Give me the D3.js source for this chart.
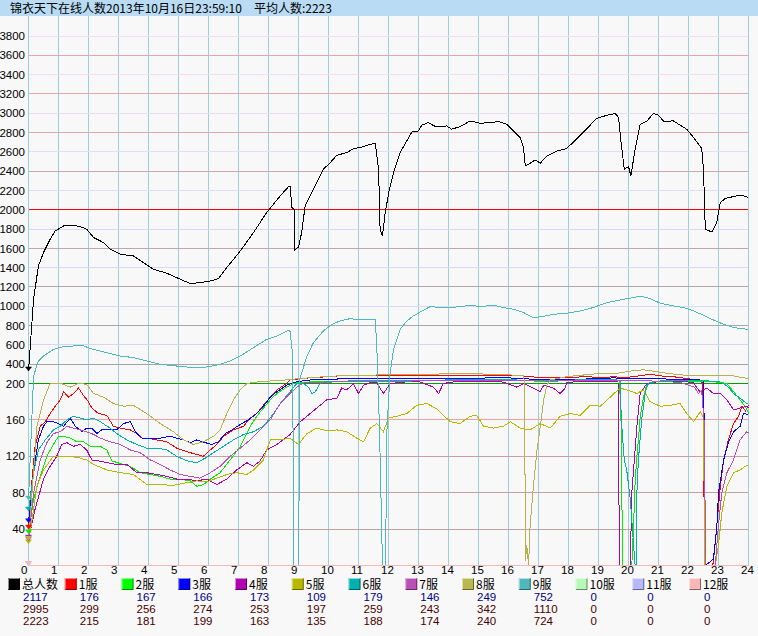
<!DOCTYPE html>
<html><head><meta charset="utf-8">
<script src="https://cdn.jsdelivr.net/npm/d3@7"></script>
<style>
html,body{margin:0;padding:0;background:#f8f8f8;}
svg{display:block;}
</style></head><body>
<svg id="c" width="758" height="636"></svg>
<script>
// ---------- data ----------
const titleText = "锦衣天下在线人数2013年10月16日23:59:10\u3000平均人数:2223";
const hourTicks = d3.range(0, 25);
const yTicksTop = d3.range(3800, 199, -200);
const yTicksBottom = [160, 120, 80, 40];
const seriesNames = ["总人数","1服","2服","3服","4服","5服","6服","7服","8服","9服","10服","11服","12服"];
const currentValues = [2117,176,167,166,173,109,179,146,249,752,0,0,0];
const maxValues = [2995,299,256,274,253,197,259,243,342,1110,0,0,0];
const avgValues = [2223,215,181,199,163,135,188,174,240,724,0,0,0];

// [hour, value]
const totalSeries = [[0,330],[0.17,1073],[0.33,1418],[0.5,1556],[0.72,1694],[0.89,1780],[1.17,1832],[1.39,1842],[1.72,1826],[1.94,1798],[2.17,1712],[2.5,1660],[2.72,1591],[3.06,1539],[3.5,1521],[3.83,1453],[4.17,1383],[4.61,1342],[4.94,1297],[5.39,1235],[5.72,1246],[6.06,1262],[6.33,1287],[6.61,1401],[7.06,1573],[7.5,1764],[7.94,1971],[8.39,2143],[8.67,2240],[8.72,2240],[8.78,2023],[8.86,2000],[8.87,1583],[9,1613],[9.11,1770],[9.22,2040],[9.5,2212],[9.83,2420],[10.06,2489],[10.28,2565],[10.61,2592],[10.83,2634],[11.06,2644],[11.28,2668],[11.53,2686],[11.56,2690],[11.67,2420],[11.72,1798],[11.8,1729],[11.89,1971],[12.03,2212],[12.17,2385],[12.39,2593],[12.61,2713],[12.78,2806],[13,2817],[13.11,2876],[13.33,2903],[13.56,2862],[13.94,2868],[14.1,2834],[14.39,2862],[14.72,2920],[15.06,2896],[15.39,2903],[15.67,2913],[15.94,2886],[16.17,2817],[16.39,2748],[16.5,2644],[16.56,2454],[16.67,2470],[16.89,2516],[17.06,2482],[17.28,2558],[17.61,2609],[17.94,2634],[18.28,2738],[18.61,2841],[18.94,2945],[19.28,2979],[19.56,2997],[19.67,2955],[19.74,2731],[19.86,2420],[20,2448],[20.08,2350],[20.22,2627],[20.39,2886],[20.61,2917],[20.83,2997],[21,2979],[21.17,2917],[21.5,2920],[21.72,2876],[21.94,2834],[22.17,2748],[22.44,2634],[22.5,2420],[22.56,1798],[22.78,1770],[22.94,1867],[23.06,2075],[23.22,2116],[23.5,2137],[23.72,2150],[23.94,2137],[24,2117]];

const server1 = [[0,40],[0.06,73],[0.22,131],[0.39,153],[0.56,158],[0.72,167],[0.89,175],[1.06,182],[1.17,191],[1.33,185],[1.5,189],[1.67,195],[1.83,187],[2,180],[2.11,173],[2.33,167],[2.61,165],[2.83,153],[3.06,151],[3.39,149],[3.61,145],[3.78,140],[3.94,140],[4.28,138],[4.61,136],[4.94,129],[5.28,125],[5.61,122],[5.83,120],[6.06,127],[6.28,133],[6.5,142],[6.83,149],[7.17,153],[7.39,162],[7.61,167],[7.83,176],[8.06,185],[8.28,193],[8.6,200],[8.72,236],[9.17,254],[9.72,265],[10.28,278],[10.8,282],[11.39,288],[12,283],[12.5,282],[13,286],[13.61,288],[14.2,282],[14.72,278],[15.3,283],[15.83,278],[16.3,284],[16.8,268],[17.4,258],[17.9,258],[18.5,270],[19,265],[19.5,268],[20,265],[20.5,285],[20.72,299],[21,280],[21.5,270],[21.9,254],[22.39,229],[22.48,200],[22.5,87],[22.54,60],[22.56,0],[22.8,0],[22.83,4],[22.94,43],[23.06,87],[23.17,116],[23.33,138],[23.5,156],[23.67,164],[23.78,175],[23.9,170],[24,176]];
const server2 = [[0,35],[0.17,73],[0.39,98],[0.61,120],[0.83,133],[1,142],[1.17,142],[1.39,140],[1.61,136],[1.83,136],[2.06,131],[2.39,131],[2.61,127],[2.78,115],[3.06,112],[3.39,109],[3.72,102],[4.06,100],[4.39,98],[4.72,95],[5.06,95],[5.39,93],[5.61,87],[5.83,89],[6.11,96],[6.39,102],[6.72,116],[7.06,131],[7.39,153],[7.61,164],[7.83,173],[8.06,182],[8.28,189],[8.6,196],[8.9,205],[9.3,215],[10,222],[11,228],[12,225],[13,230],[14,232],[15,235],[16,230],[17,225],[18,228],[19,232],[19.7,230],[19.76,150],[19.8,0],[20.11,0],[20.17,44],[20.22,91],[20.28,120],[20.33,138],[20.39,164],[20.5,185],[20.61,200],[20.8,215],[21.5,222],[22,220],[22.5,218],[23,215],[23.28,200],[23.5,191],[23.72,182],[23.94,172],[24,167]];
const server3 = [[0,47],[0.17,105],[0.33,138],[0.5,153],[0.61,158],[0.83,158],[1,156],[1.17,153],[1.39,162],[1.56,153],[1.78,147],[1.94,151],[2.11,151],[2.28,145],[2.44,149],[2.72,149],[2.94,149],[3.17,156],[3.39,158],[3.56,147],[3.78,140],[4.06,140],[4.39,140],[4.72,142],[4.94,140],[5.17,138],[5.39,135],[5.61,138],[5.89,135],[6.11,133],[6.33,136],[6.56,145],[6.78,149],[7.06,155],[7.33,160],[7.61,167],[7.83,175],[8.06,185],[8.28,191],[8.6,198],[8.9,215],[9.3,235],[10,245],[11,250],[12,248],[13,252],[14,250],[15,255],[15.8,262],[16.5,250],[17,240],[18,242],[19,250],[19.5,258],[20,252],[21,248],[21.5,245],[22,240],[22.5,235],[22.54,120],[22.56,0],[22.83,7],[22.94,40],[23,80],[23.17,116],[23.33,135],[23.5,147],[23.72,153],[23.83,167],[24,166]];
const server4 = [[0,29],[0.22,62],[0.5,95],[0.72,109],[0.94,120],[1.11,133],[1.28,135],[1.5,131],[1.72,133],[1.94,127],[2.11,116],[2.33,115],[2.61,113],[2.94,111],[3.28,111],[3.61,102],[3.94,102],[4.28,100],[4.61,98],[4.94,95],[5.28,95],[5.61,93],[5.94,95],[6.28,89],[6.61,95],[6.94,105],[7.28,113],[7.5,109],[7.72,115],[7.94,127],[8.28,133],[8.72,144],[9.06,158],[9.39,167],[9.72,176],[9.94,182],[10.28,184],[10.44,195],[10.61,193],[10.83,200],[11,189],[11.17,198],[11.39,212],[11.61,205],[11.83,189],[12.06,200],[12.5,215],[13,222],[13.5,196],[13.67,189],[13.83,200],[14.2,218],[14.72,225],[15.3,220],[15.83,215],[16.28,196],[16.5,200],[16.83,195],[17.06,191],[17.17,198],[17.5,195],[17.72,189],[17.89,195],[17.94,212],[18.5,222],[19,225],[19.65,220],[19.7,0],[20.06,0],[20.11,80],[20.28,153],[20.39,189],[20.61,200],[21,220],[21.5,225],[22.17,212],[22.28,195],[22.39,191],[22.61,195],[22.83,189],[23.06,189],[23.28,182],[23.5,171],[23.72,173],[23.94,175],[24,173]];
const server5 = [[0,24],[0.28,87],[0.5,105],[0.83,120],[1.17,120],[1.61,119],[1.94,116],[2.17,111],[2.61,105],[3.06,102],[3.5,100],[3.94,89],[4.39,89],[4.83,88],[5.28,91],[5.61,93],[5.94,92],[6.28,96],[6.61,100],[6.94,102],[7.28,100],[7.5,105],[7.83,116],[8.06,138],[8.39,138],[8.72,140],[9,133],[9.28,145],[9.61,151],[9.94,148],[10.28,149],[10.61,147],[10.94,140],[11.17,136],[11.39,151],[11.61,156],[11.83,147],[12,162],[12.28,164],[12.61,167],[12.94,176],[13.28,178],[13.61,172],[13.83,165],[14.06,158],[14.39,156],[14.72,164],[14.94,165],[15.17,153],[15.5,151],[15.83,153],[16.06,158],[16.39,151],[16.72,149],[17.06,156],[17.39,151],[17.72,164],[18.06,167],[18.39,165],[18.72,176],[19.06,175],[19.39,185],[19.72,195],[19.94,193],[20.28,189],[20.5,193],[20.72,180],[21.06,175],[21.39,176],[21.72,178],[21.94,167],[22.17,158],[22.39,169],[22.5,162],[22.54,0],[22.89,0],[23,22],[23.11,58],[23.28,87],[23.5,102],[23.72,105],[23.94,110],[24,109]];
const server6 = [[0,60],[0.17,102],[0.33,127],[0.56,138],[0.83,149],[1.06,153],[1.28,160],[1.5,164],[1.72,162],[1.94,160],[2.17,162],[2.39,158],[2.72,151],[2.94,145],[3.28,138],[3.61,133],[3.94,129],[4.28,129],[4.61,127],[4.94,120],[5.28,115],[5.61,113],[5.89,118],[6.17,124],[6.5,131],[6.83,138],[7.17,144],[7.5,147],[7.83,153],[8.17,167],[8.39,178],[8.72,191],[8.94,200],[9.17,200],[9.33,196],[9.44,189],[9.56,191],[9.72,200],[9.83,215],[10.5,225],[11.5,230],[12.5,232],[13.5,235],[14.5,238],[15.5,240],[16.5,235],[17.5,232],[18.5,238],[19.3,240],[19.72,235],[19.76,160],[19.86,116],[19.94,105],[20.06,73],[20.14,36],[20.22,0],[20.26,0],[20.28,80],[20.33,116],[20.44,160],[20.56,191],[20.67,205],[21,225],[21.5,232],[22,230],[22.5,228],[23,222],[23.17,200],[23.33,196],[23.5,189],[23.72,184],[23.94,178],[24,179]];
const server7 = [[0,27],[0.17,80],[0.39,116],[0.61,135],[0.83,145],[1.06,147],[1.28,153],[1.5,151],[1.72,149],[1.94,147],[2.17,144],[2.39,140],[2.72,136],[3.06,133],[3.39,127],[3.72,124],[4.06,116],[4.39,111],[4.72,105],[5.06,100],[5.39,98],[5.72,96],[6.06,102],[6.39,109],[6.72,120],[7.06,129],[7.39,138],[7.72,149],[8.06,160],[8.33,175],[8.5,182],[8.94,196],[9.17,205],[9.6,212],[10.5,218],[11.5,222],[12.5,225],[13.5,228],[14.5,226],[15.5,230],[16.5,228],[17.5,225],[18.5,230],[19.5,232],[20.5,228],[21.3,222],[21.8,205],[22.2,196],[22.33,189],[22.44,192],[22.54,150],[22.56,0],[22.89,0],[23,44],[23.11,80],[23.28,102],[23.5,116],[23.72,138],[23.94,147],[24,146]];
const server8 = [[0,28],[0.28,153],[0.5,182],[0.72,200],[1.06,204],[1.39,196],[1.67,202],[1.94,199],[2.17,189],[2.5,185],[2.83,178],[3.17,175],[3.5,176],[3.94,167],[4.39,156],[4.83,147],[5.17,138],[5.5,133],[5.83,136],[6.17,142],[6.39,149],[6.61,167],[6.83,182],[7.06,193],[7.28,200],[7.6,215],[8,225],[8.5,235],[9,250],[9.5,262],[10,275],[11,285],[12,290],[13,295],[14,300],[15,300],[16,290],[16.5,280],[16.54,200],[16.56,5],[16.61,22],[16.67,0],[16.72,44],[16.83,87],[16.94,124],[17.06,153],[17.17,182],[17.28,198],[17.39,236],[17.94,271],[18.5,288],[19.06,305],[19.6,305],[20.17,333],[20.5,342],[20.94,322],[21.28,305],[21.83,288],[22.39,288],[22.94,288],[23.5,278],[23.94,254],[24,249]];
const server9 = [[0,72],[0.17,278],[0.33,433],[0.5,485],[0.83,554],[1.17,582],[1.5,589],[1.83,592],[2.06,562],[2.5,527],[3.06,485],[3.5,468],[3.94,433],[4.39,399],[4.94,381],[5.5,365],[5.94,371],[6.39,399],[6.72,433],[7.06,485],[7.5,572],[7.94,658],[8.28,692],[8.67,751],[8.72,740],[8.81,485],[8.83,0],[9,0],[9.05,250],[9.28,485],[9.5,624],[9.83,744],[10.11,813],[10.39,848],[10.72,872],[11.06,858],[11.28,865],[11.53,865],[11.56,860],[11.62,500],[11.7,150],[11.8,0],[11.9,0],[11.95,150],[12.05,300],[12.17,554],[12.39,762],[12.61,848],[12.83,900],[13.06,941],[13.39,997],[13.72,987],[14.06,987],[14.39,997],[14.72,1010],[15.06,997],[15.5,1010],[15.83,987],[16.17,969],[16.5,935],[16.83,883],[17.06,890],[17.5,917],[17.94,928],[18.39,952],[18.83,987],[19.28,1038],[19.72,1066],[20.17,1090],[20.39,1107],[20.72,1080],[21.06,1031],[21.39,1010],[21.83,987],[22.17,952],[22.5,907],[22.83,858],[23.17,813],[23.5,779],[23.94,762],[24,752]];
const server10 = [[0,0],[24,0]];
const server11 = [[0,0],[24,0]];
const server12 = [[0,0],[24,0]];

// ---------- styles ----------
const lineColors = ["#000000","#ff0000","#00ee00","#0000ff","#b000b0","#b8b800","#00b0b0","#b850b8","#b8b050","#50b8b8","#b8f8b8","#b8b8f8","#f8b8b8"];
const swatchColors = ["#000000","#ff0000","#00ff00","#0000ff","#b000b0","#b8b800","#00b0b0","#b850b8","#b8b850","#50b8b8","#b8f8b8","#b8b8f8","#f8b8b8"];
const gridColor = new Map([[3800,"#f0dcf8"],[3600,"#e2a8b2"],[3400,"#f0dcf8"],[3200,"#e0a8b0"],[3000,"#e8dcf4"],[2800,"#dca8b0"],[2600,"#e4dcf8"],[2400,"#c8a8b0"],[2200,"#dcdcf8"],[2000,"#ff0000"],[1800,"#d8d8f8"],[1600,"#c4a4a8"],[1400,"#d8d8f8"],[1200,"#b0a8a8"],[1000,"#d8d8f8"],[800,"#a8a8a8"],[600,"#d4d4f4"],[400,"#a4a4a4"],[200,"#00a000"],[160,"#f0a0a0"],[120,"#c8a0a0"],[80,"#c0a0a0"],[40,"#c0a0a0"]]);

const allSeries = [totalSeries,server1,server2,server3,server4,server5,server6,server7,server8,server9,server10,server11,server12];

// ---------- layout ----------
const svg = d3.select("#c");
const W = 758, H = 636;
const x = d3.scaleLinear().domain([0,24]).range([28.5,748.5]);
const y = d3.scaleLinear().domain([0,200,3800]).range([565.5,383.5,36]);
const pix = v => Math.round(v - 0.5);

svg.append("rect").attr("width",W).attr("height",H).attr("fill","#f8f8f8");
svg.append("rect").attr("width",W).attr("height",16).attr("fill","#b9dcf4");
svg.append("text").attr("x",10).attr("y",12.5)
  .attr("font-family","'Noto Sans CJK SC', sans-serif").attr("font-size",12)
  .attr("fill","#000").text(titleText);

// vertical grid (1px rects)
svg.append("g").selectAll("rect").data(hourTicks).join("rect")
  .attr("x",d=>pix(x(d))).attr("width",1)
  .attr("y",16).attr("height",550)
  .attr("fill","#9ccfd9").attr("shape-rendering","crispEdges");

// horizontal grid (1px rects)
const yTicks = yTicksTop.concat(yTicksBottom);
svg.append("g").selectAll("rect").data(yTicks).join("rect")
  .attr("x",29).attr("width",719)
  .attr("y",d=>pix(y(d))).attr("height",1)
  .attr("fill",d=>gridColor.get(d)).attr("shape-rendering","crispEdges");

// y axis labels
const yAxis = d3.axisLeft(y).tickValues(yTicks).tickSize(0).tickPadding(3).tickFormat(d3.format("d"));
const gy = svg.append("g").attr("transform","translate(28,0)").call(yAxis);
gy.select(".domain").remove();
gy.selectAll(".tick line").remove();
gy.selectAll("text").attr("font-family","'Liberation Sans', Arial, sans-serif").attr("font-size",11.5).attr("fill","#000");

// x axis labels
const xAxis = d3.axisBottom(x).tickValues(hourTicks).tickSize(0).tickPadding(0).tickFormat(d3.format("d"));
const gx = svg.append("g").attr("transform","translate(0,567.2)").call(xAxis);
gx.select(".domain").remove();
gx.selectAll(".tick line").remove();
gx.selectAll("text").attr("font-family","'Liberation Sans', Arial, sans-serif").attr("font-size",11.5).attr("fill","#000")
  .attr("text-anchor","start").attr("dx",-8).attr("dy","0.55em");

// series lines
const line = d3.line().x(d=>x(d[0])).y(d=>y(d[1]));
const gl = svg.append("g");
allSeries.forEach((s,i)=>{
  gl.append("path").attr("d",line(s)).attr("fill","none")
    .attr("stroke",lineColors[i]).attr("stroke-width",1)
    .attr("shape-rendering","crispEdges");
});
// start markers
allSeries.forEach((s,i)=>{
  const px = x(s[0][0]), py = y(s[0][1]);
  gl.append("path").attr("d",`M${px-3},${py-4}L${px+3},${py-4}L${px},${py}Z`)
    .attr("fill",lineColors[i]).attr("stroke",lineColors[i]).attr("stroke-width",0.5);
});

// legend
const lg = svg.append("g");
seriesNames.forEach((n,i)=>{
  const sx = 8 + i*56.75;
  const g = lg.append("g").attr("transform",`translate(${sx},0)`);
  g.append("rect").attr("x",0).attr("y",578).attr("width",12).attr("height",12).attr("fill",swatchColors[i]);
  g.append("path").attr("d","M0.5,589.5V578.5H11.5").attr("stroke","#ffffff").attr("stroke-opacity",0.55).attr("fill","none");
  g.append("path").attr("d","M0.5,589.5H11.5V578.5").attr("stroke","#000000").attr("stroke-opacity",0.45).attr("fill","none");
  g.append("text").attr("x",14).attr("y",589)
    .attr("font-family","'Noto Sans CJK SC', sans-serif").attr("font-size",12).attr("fill","#000").text(n);
  const rows = [[currentValues[i],"#000080",601.2],[maxValues[i],"#4a0000",613],[avgValues[i],"#4a0000",624.8]];
  rows.forEach(r=>{
    g.append("text").attr("x",15).attr("y",r[2])
      .attr("font-family","'Liberation Sans', Arial, sans-serif").attr("font-size",11.5)
      .attr("fill",r[1]).text(r[0]);
  });
});
</script>
</body></html>
